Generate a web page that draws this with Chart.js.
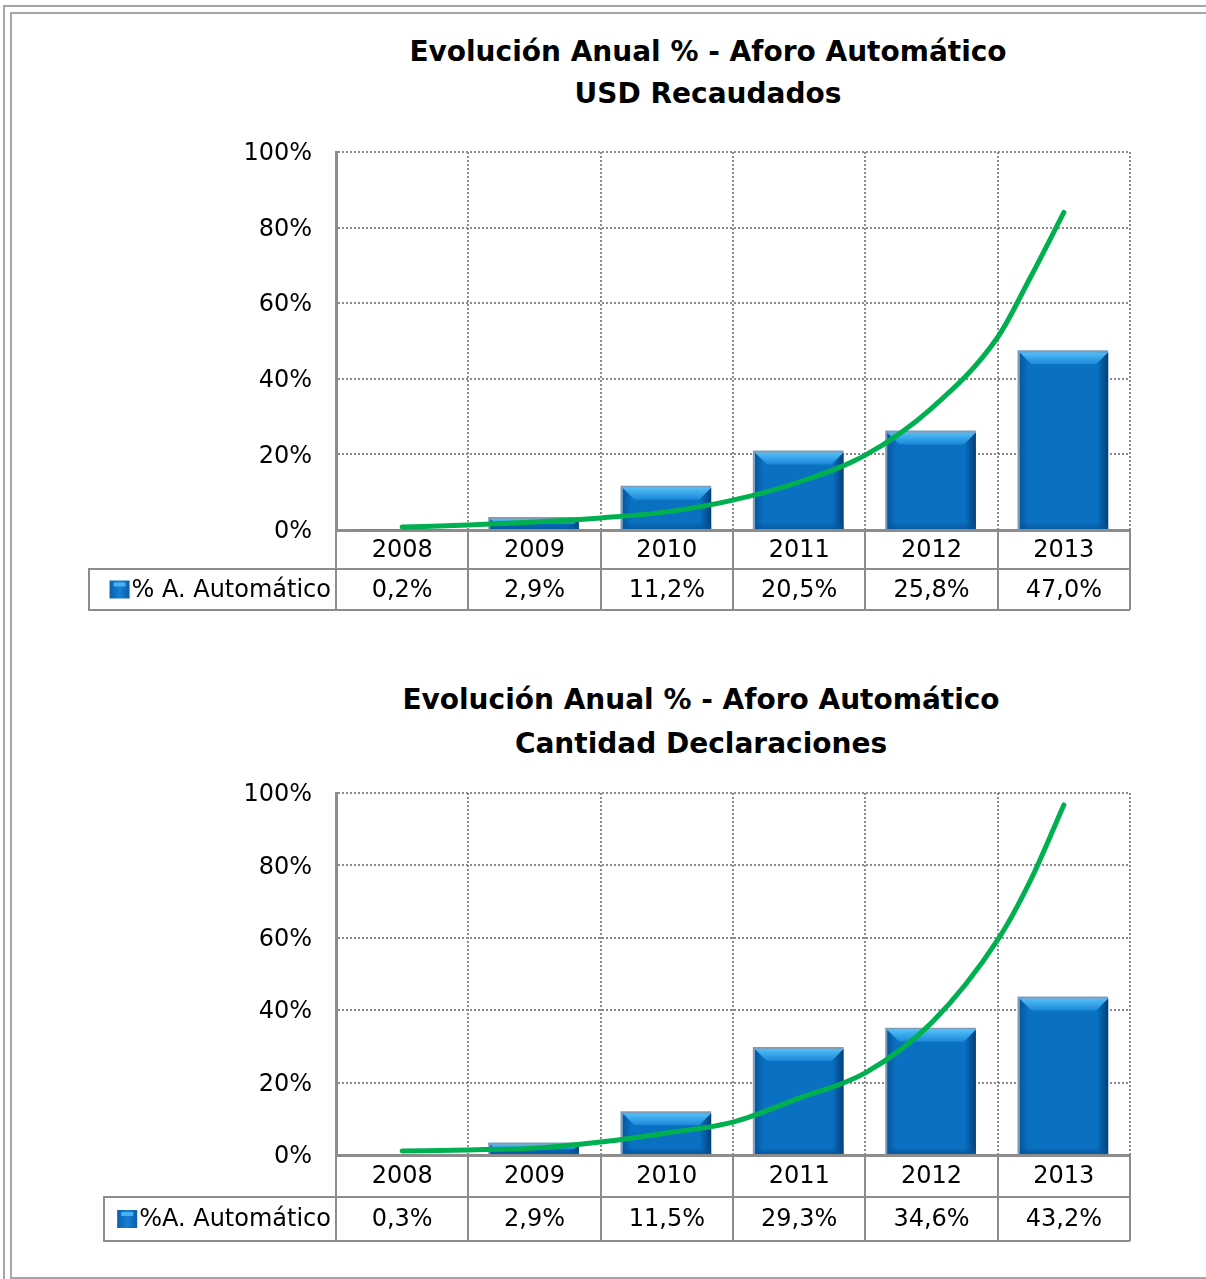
<!DOCTYPE html>
<html>
<head>
<meta charset="utf-8">
<script src="https://cdn.jsdelivr.net/npm/chart.js@4.4.1/dist/chart.umd.min.js"></script>
<style>
  body { margin: 0; width: 1206px; height: 1279px; position: relative; overflow: hidden; background: #fff; font-family: "DejaVu Sans", sans-serif; }
  .borde1 { position: absolute; left: 3px; top: 5px; width: 1300px; height: 1400px; border-left: 2px solid #a6a6a6; border-top: 2px solid #a6a6a6; }
  .borde2 { position: absolute; left: 10px; top: 12px; width: 1300px; height: 1263px; border: 2px solid #a6a6a6; border-right: none; }
  .titulo { position: absolute; width: 900px; text-align: center; font-weight: bold; font-size: 28px; color: #000; }
  canvas { position: absolute; left: 0; }
</style>
</head>
<body>
<div class="borde1"></div>
<div class="borde2"></div>
<div class="titulo" style="left:258px; top:31px; line-height:42px;">Evolución Anual % - Aforo Automático<br>USD Recaudados</div>
<div class="titulo" style="left:251px; top:678px; line-height:44px;">Evolución Anual % - Aforo Automático<br>Cantidad Declaraciones</div>
<canvas id="graf1" width="1206" height="640" style="top:0px"></canvas>
<canvas id="graf2" width="1206" height="639" style="top:640px"></canvas>

<script>
// Datos
const anios = ['2008', '2009', '2010', '2011', '2012', '2013'];
const usdRecaudados = [0.2, 2.9, 11.2, 20.5, 25.8, 47.0];
const cantDeclaraciones = [0.3, 2.9, 11.5, 29.3, 34.6, 43.2];
const ticksY = [0, 20, 40, 60, 80, 100];

// Línea de tendencia (posición en índice de año, 0 = 2008)
const posTendencia = [0, 0.5, 1, 1.5, 2, 2.5, 3, 3.5, 4, 4.5, 4.75, 5];
const tendenciaUsd = [0.8, 1.3, 2.1, 3.2, 4.8, 7.9, 12.7, 19.8, 32.2, 51, 67, 84];
const tendenciaDecl = [1.1, 1.4, 1.9, 3.6, 6.1, 9.1, 15.7, 22.7, 36.5, 59.4, 76, 96.7];

Chart.defaults.font.family = '"DejaVu Sans", sans-serif';
Chart.defaults.color = '#000';

const GRIS = '#8c8c8c';

// Bisel de las barras (se dibuja justo después de las barras, antes de la línea)
const bisel = {
  id: 'bisel',
  afterDatasetDraw(chart, args) {
    if (args.index !== 0) return;
    const ctx = chart.ctx;
    args.meta.data.forEach(bar => {
      const l = bar.x - bar.width / 2, r = bar.x + bar.width / 2;
      const t = bar.y, b = bar.base, h = b - t;
      if (h < 2) return;
      const e = Math.min(12, h / 2);
      ctx.save();
      // borde izquierdo oscuro
      let g = ctx.createLinearGradient(l, 0, l + 9, 0);
      g.addColorStop(0, 'rgba(5,85,155,0.9)');
      g.addColorStop(1, 'rgba(5,85,155,0)');
      ctx.fillStyle = g;
      ctx.fillRect(l, t, 9, h);
      // borde derecho oscuro
      g = ctx.createLinearGradient(r - 11, 0, r, 0);
      g.addColorStop(0, 'rgba(3,60,115,0)');
      g.addColorStop(1, 'rgba(3,60,115,0.95)');
      ctx.fillStyle = g;
      ctx.fillRect(r - 11, t, 11, h);
      // borde inferior
      g = ctx.createLinearGradient(0, b - 7, 0, b);
      g.addColorStop(0, 'rgba(5,85,155,0)');
      g.addColorStop(1, 'rgba(5,85,155,0.8)');
      ctx.fillStyle = g;
      ctx.fillRect(l, b - 7, r - l, 7);
      // brillo superior
      g = ctx.createLinearGradient(0, t, 0, t + e);
      g.addColorStop(0, '#52bff8');
      g.addColorStop(1, '#1a88d8');
      ctx.fillStyle = g;
      ctx.beginPath();
      ctx.moveTo(l, t);
      ctx.lineTo(r, t);
      ctx.lineTo(r - e, t + e);
      ctx.lineTo(l + e, t + e);
      ctx.closePath();
      ctx.fill();
      // contorno
      ctx.strokeStyle = '#7f9dbb';
      ctx.lineWidth = 2;
      ctx.beginPath();
      ctx.moveTo(l - 1, b);
      ctx.lineTo(l - 1, t - 1);
      ctx.lineTo(r, t - 1);
      ctx.stroke();
      ctx.restore();
    });
  }
};

// Tabla de datos bajo el eje X
function tablaDatos(valores, etiqueta, izq, alto1, alto2) {
  return {
    id: 'tabla',
    afterDraw(chart) {
      const { ctx, chartArea } = chart;
      const x = chart.scales.x;
      const y0 = chartArea.bottom, y1 = y0 + alto1, y2 = y1 + alto2;
      const medio = (x.getPixelForValue(1) - x.getPixelForValue(0)) / 2;
      ctx.save();
      ctx.strokeStyle = GRIS;
      ctx.lineWidth = 2;
      ctx.beginPath();
      for (let i = 0; i <= anios.length; i++) {
        const px = Math.round(x.getPixelForValue(0) - medio + i * medio * 2);
        ctx.moveTo(px, y0);
        ctx.lineTo(px, y2);
      }
      ctx.moveTo(izq, y1); ctx.lineTo(chartArea.right, y1);
      ctx.moveTo(izq, y2); ctx.lineTo(chartArea.right, y2);
      ctx.moveTo(izq, y1 - 1); ctx.lineTo(izq, y2 + 1);
      ctx.stroke();

      ctx.fillStyle = '#000';
      ctx.font = '24px "DejaVu Sans"';
      ctx.textAlign = 'center';
      ctx.textBaseline = 'middle';
      anios.forEach((a, i) => {
        const px = x.getPixelForValue(i);
        ctx.fillText(a, px, (y0 + y1) / 2 + 1);
        ctx.fillText(valores[i].toFixed(1).replace('.', ',') + '%', px, (y1 + y2) / 2 + 1);
      });

      // leyenda
      ctx.textAlign = 'right';
      const xt = chartArea.left - 5;
      ctx.fillText(etiqueta, xt, (y1 + y2) / 2 + 1);
      const w = ctx.measureText(etiqueta).width;
      const sx = xt - w - 22, sy = (y1 + y2) / 2 - 9;
      const g = ctx.createLinearGradient(sx, 0, sx + 20, 0);
      g.addColorStop(0, '#0a5fa8');
      g.addColorStop(0.5, '#1680d6');
      g.addColorStop(1, '#0a5fa8');
      ctx.fillStyle = g;
      ctx.fillRect(sx, sy, 20, 18);
      ctx.fillStyle = '#47b2f2';
      ctx.fillRect(sx + 4, sy + 2, 12, 4);
      ctx.restore();
    }
  };
}

function crearGrafico(id, valores, tendencia, etiqueta, izq, alto1, alto2, pad) {
  new Chart(document.getElementById(id), {
    type: 'bar',
    data: {
      labels: anios,
      datasets: [
        {
          label: etiqueta,
          data: valores,
          backgroundColor: '#0a70c2',
          borderWidth: 0,
          barPercentage: 0.67,
          categoryPercentage: 1,
          grouped: false,
          order: 1
        },
        {
          type: 'line',
          xAxisID: 'xt',
          data: posTendencia.map((p, i) => ({ x: p, y: tendencia[i] })),
          borderColor: '#00b050',
          borderWidth: 5,
          borderCapStyle: 'round',
          pointRadius: 0,
          cubicInterpolationMode: 'monotone',
          order: 0
        }
      ]
    },
    options: {
      responsive: false,
      animation: false,
      devicePixelRatio: 1,
      layout: { padding: pad },
      plugins: { legend: { display: false }, tooltip: { enabled: false }, title: { display: false } },
      scales: {
        x: {
          ticks: { display: false },
          afterFit: s => { s.height = alto1 + alto2; },
          grid: { color: GRIS, lineWidth: 2, drawTicks: false, offset: true },
          border: { color: GRIS, width: 3, dash: [2, 2] }
        },
        xt: {
          type: 'linear',
          display: false,
          offset: false,
          grid: { offset: false },
          min: -0.5,
          max: 5.5
        },
        y: {
          min: 0,
          max: 100,
          afterBuildTicks: s => { s.ticks = ticksY.map(v => ({ value: v })); },
          afterFit: s => { s.width = 100; },
          ticks: { callback: v => v + '%', font: { size: 24 }, color: '#000', padding: 24, labelOffset: 2 },
          grid: { color: GRIS, lineWidth: 2, drawTicks: false },
          border: { color: GRIS, width: 3, dash: [2, 2] }
        }
      }
    },
    plugins: [bisel, tablaDatos(valores, etiqueta, izq, alto1, alto2)]
  });
}

crearGrafico('graf1', usdRecaudados, tendenciaUsd, '% A. Automático', 89, 39, 41,
  { top: 152, left: 236, right: 76, bottom: 30 });
crearGrafico('graf2', cantDeclaraciones, tendenciaDecl, '%A. Automático', 104, 42, 44,
  { top: 153, left: 236, right: 76, bottom: 38 });
</script>
</body>
</html>
